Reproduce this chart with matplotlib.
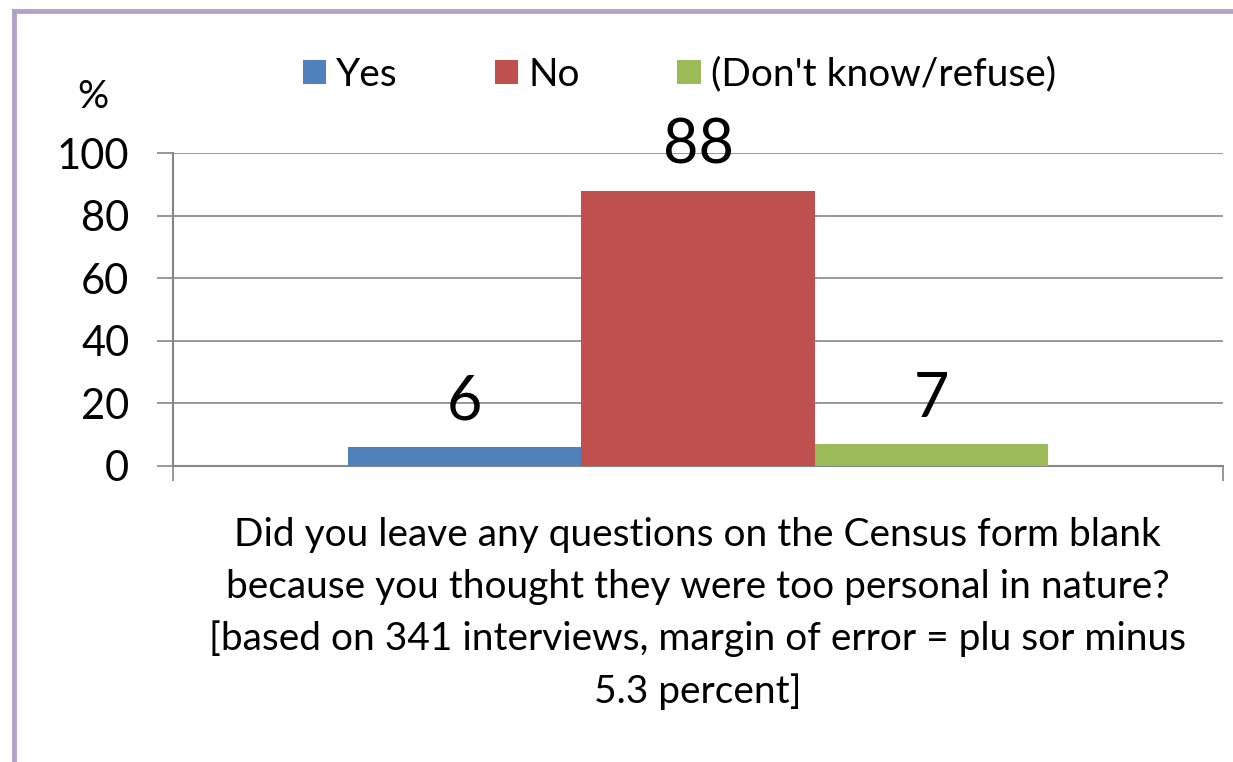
import matplotlib.pyplot as plt
from matplotlib.lines import Line2D

plt.rcParams["font.family"] = ["Lato", "DejaVu Sans"]

series = ["Yes", "No", "(Don't know/refuse)"]
values = [6, 88, 7]
colors = ["#4F81BD", "#C0504D", "#9BBB59"]
yticks = [0, 20, 40, 60, 80, 100]
xlabel = ("Did you leave any questions on the Census form blank\n"
          "because you thought they were too personal in nature?\n"
          "[based on 341 interviews, margin of error = plu sor minus\n"
          "5.3 percent]")

fig = plt.figure(figsize=(12.33, 7.62), dpi=100)
ax = fig.add_axes([0.1403, 0.3885, 0.8516, 0.4107])

width = 0.2222
offsets = [-width, 0, width]
for name, val, col, off in zip(series, values, colors, offsets):
    ax.bar(off, val, width=width, color=col, label=name, zorder=3)
    ax.text(off, val + 8.8, str(val), ha="center", va="baseline", fontsize=44)

ax.set_xlim(-0.5, 0.5)
ax.set_ylim(0, 100)
ax.set_yticks(yticks)
ax.tick_params(axis="y", labelsize=30, length=11.5, width=1.2, color="#868686", pad=20)
ax.set_xticks([-0.5, 0.5])
ax.set_xticklabels([])
ax.tick_params(axis="x", length=11, width=1.2, color="#868686")
ax.grid(axis="y", color="#868686", linewidth=1.2, zorder=0)
for side in ["top", "right"]:
    ax.spines[side].set_visible(False)
for side in ["left", "bottom"]:
    ax.spines[side].set_color("#868686")
    ax.spines[side].set_linewidth(1.5)

fig.text(0.075, 0.873, "%", fontsize=28, ha="center", va="center")
fig.text(0.566, 0.195, xlabel, fontsize=28, ha="center", va="center", linespacing=1.53)

leg = fig.legend(loc="center", bbox_to_anchor=(0.551, 0.902), ncol=3, frameon=False,
                 fontsize=28, handlelength=0.6, handleheight=0.6, handletextpad=0.26,
                 columnspacing=2.5)

border = "#B3A2C7"
fig.add_artist(Line2D([0.011, 1.0], [0.985, 0.985], color=border, linewidth=3.5))
fig.add_artist(Line2D([0.011, 0.011], [0.0, 0.985], color=border, linewidth=3.5))

fig.savefig("out.png", dpi=100)
